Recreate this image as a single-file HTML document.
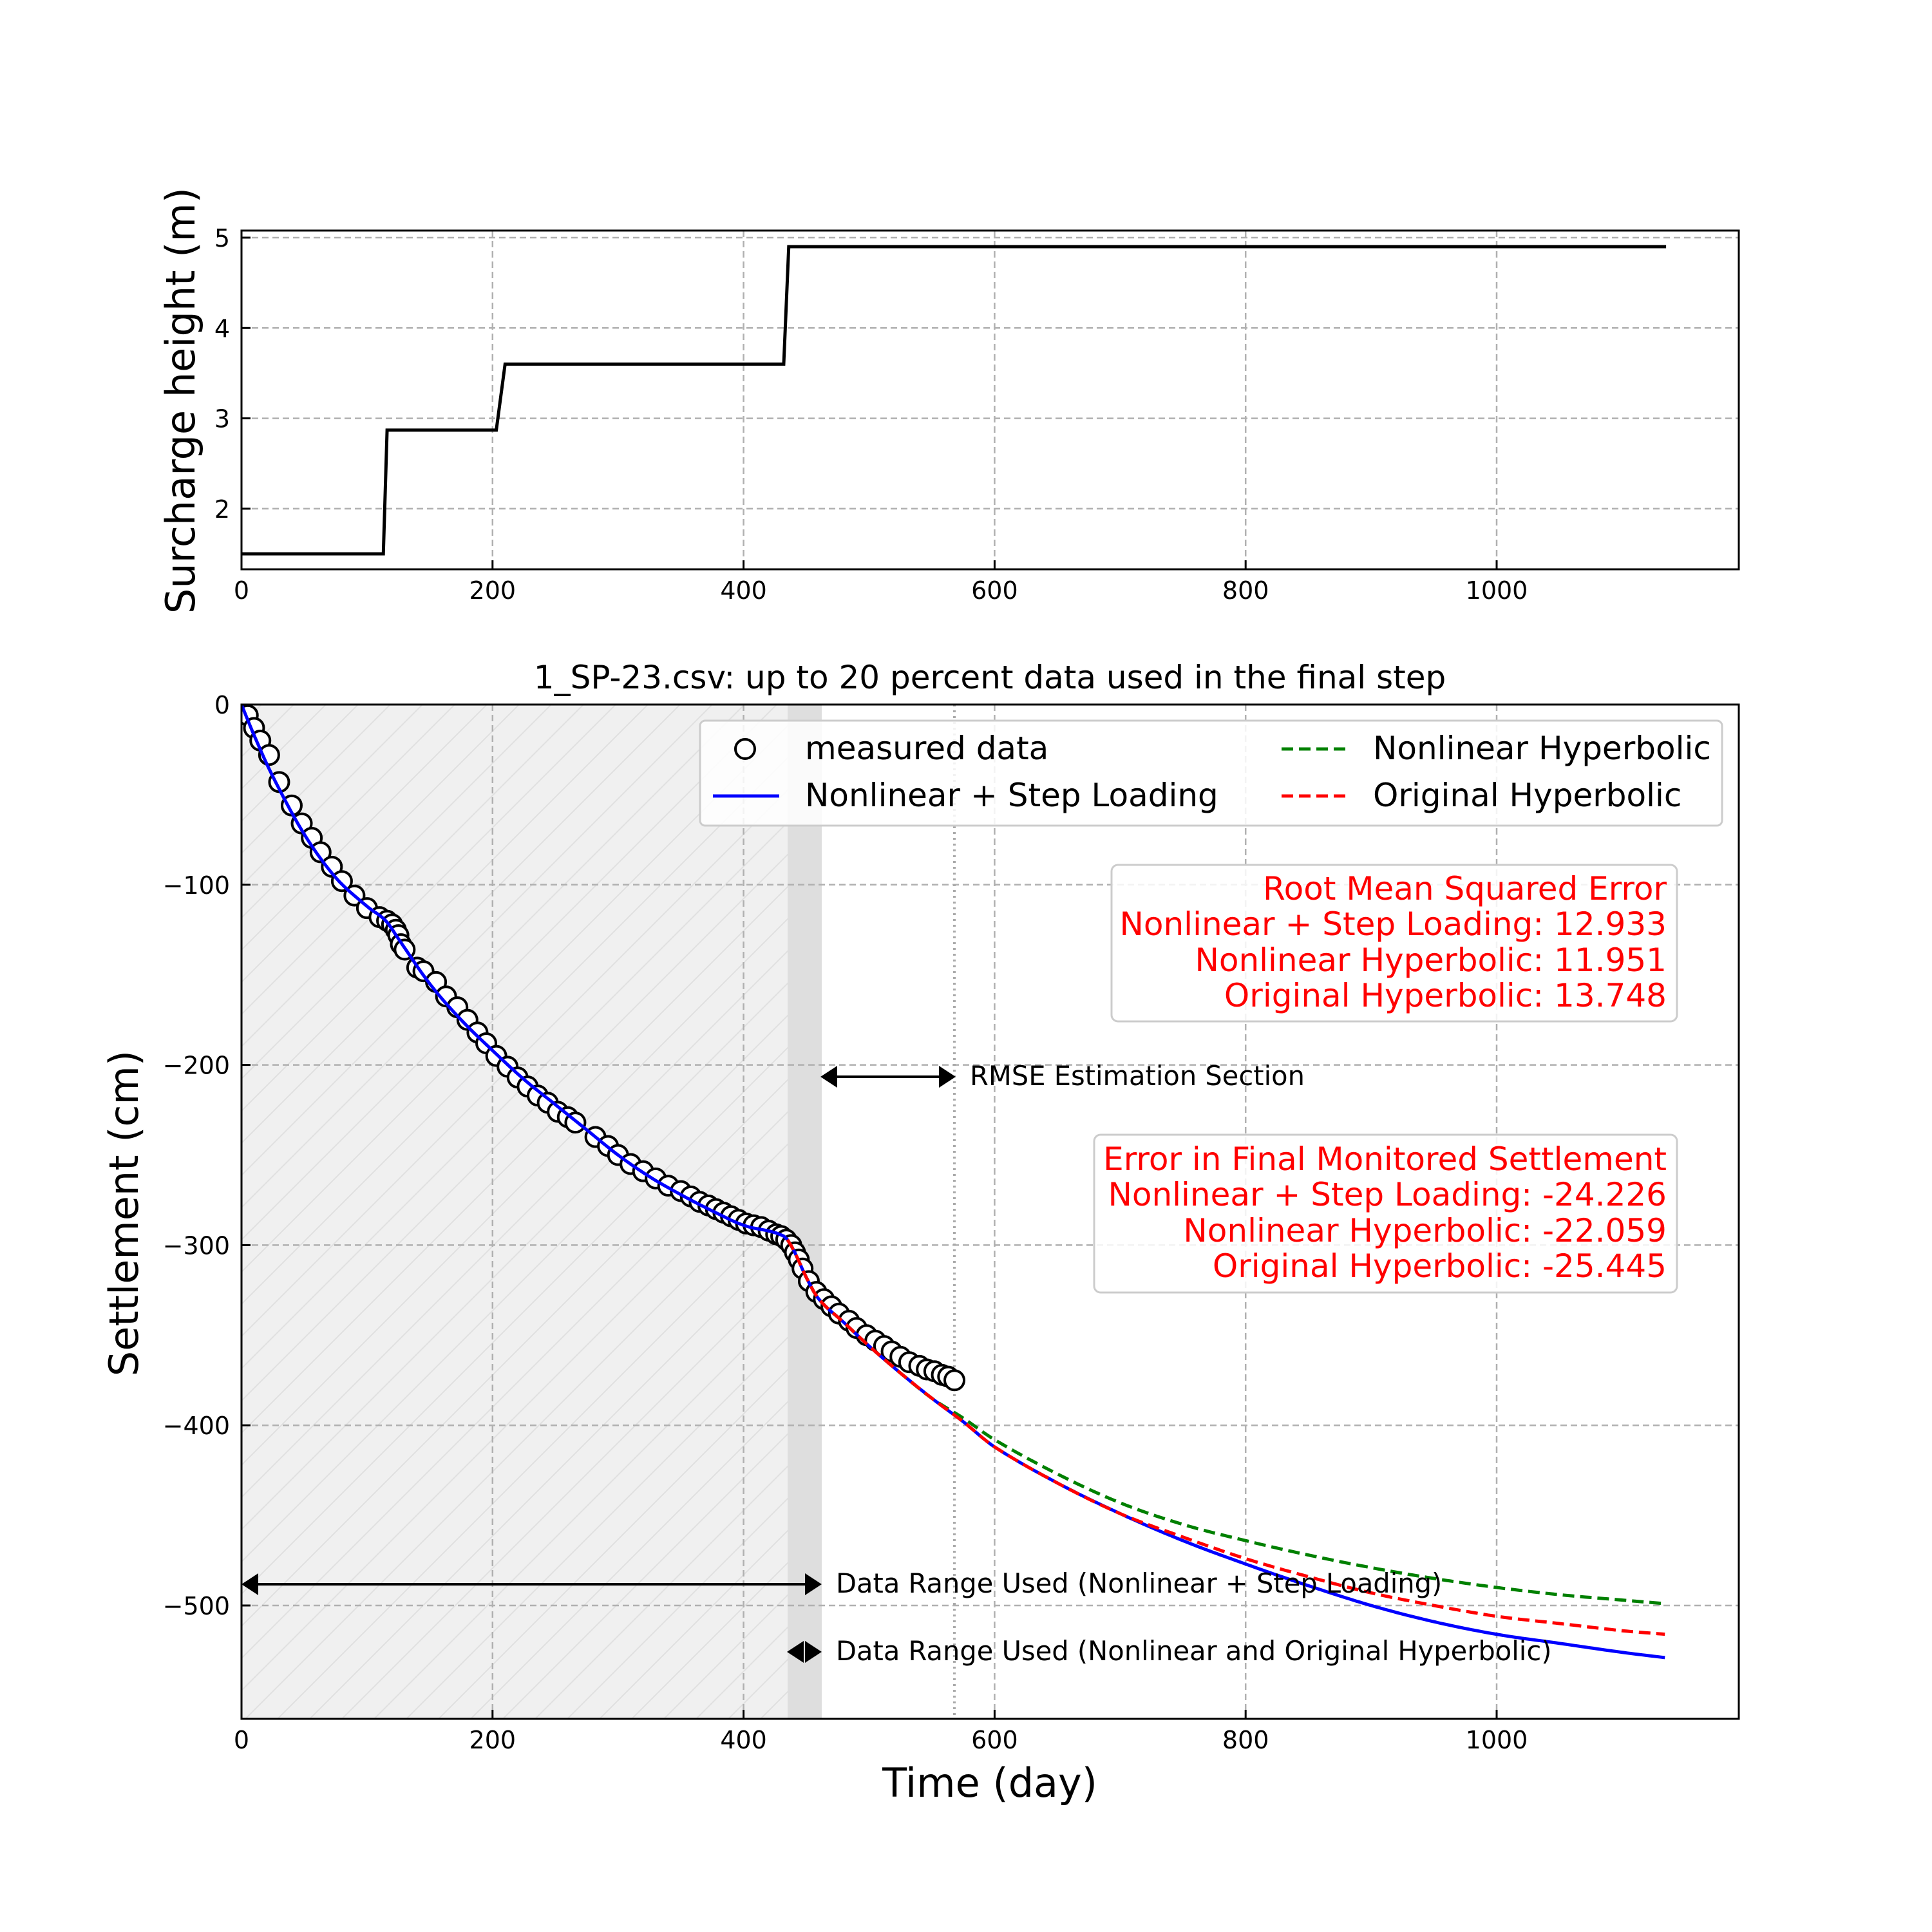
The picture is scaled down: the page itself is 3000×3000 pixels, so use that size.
<!DOCTYPE html>
<html><head><meta charset="utf-8"><style>
html,body{margin:0;padding:0;background:#fff}
svg{display:block;font-family:"DejaVu Sans","Liberation Sans",sans-serif}
</style></head><body>
<svg id="s" width="3000" height="3000" viewBox="0 0 3000 3000" xmlns="http://www.w3.org/2000/svg">
<defs>
<pattern id="h" patternUnits="userSpaceOnUse" width="50" height="50">
<path d="M-10,60 L60,-10 M-10,10 L10,-10 M40,60 L60,40" stroke="#e0e0e0" stroke-width="2"/>
</pattern>
<clipPath id="cb"><rect x="375" y="1094" width="2325" height="1575"/></clipPath>
</defs>
<rect width="3000" height="3000" fill="#fff"/>
<g id="topgrid" stroke="#b0b0b0" stroke-width="2.5" stroke-dasharray="10,6"></g>
<path id="surch" fill="none" stroke="#000" stroke-width="5"/>
<rect x="375" y="358" width="2325" height="526" fill="none" stroke="#000" stroke-width="3"/>
<g id="topticks"></g>
<text transform="translate(302,622) rotate(-90)" text-anchor="middle" font-size="62">Surcharge height (m)</text>

<rect x="375" y="1094" width="901" height="1575" fill="#f0f0f0"/>
<rect x="375" y="1094" width="901" height="1575" fill="url(#h)"/>
<rect x="1223" y="1094" width="53" height="1575" fill="#dedede"/>
<g id="botgrid" stroke="#b0b0b0" stroke-width="2.5" stroke-dasharray="10,6"></g>
<line x1="1482" y1="1094" x2="1482" y2="2669" stroke="#aaa" stroke-width="4" stroke-dasharray="3,6"/>
<g clip-path="url(#cb)">
<g id="pts" fill="#fff" stroke="#000" stroke-width="4"></g>
<path id="blue" fill="none" stroke="#0000ff" stroke-width="5"/>
<path id="green" fill="none" stroke="#008000" stroke-width="5" stroke-dasharray="18,9"/>
<path id="red" fill="none" stroke="#ff0000" stroke-width="5" stroke-dasharray="18,9"/>
</g>
<rect x="375" y="1094" width="2325" height="1575" fill="none" stroke="#000" stroke-width="3"/>
<g id="botticks"></g>
<text x="1537" y="1069" text-anchor="middle" font-size="50">1_SP-23.csv: up to 20 percent data used in the final step</text>
<text transform="translate(214,1884) rotate(-90)" text-anchor="middle" font-size="62">Settlement (cm)</text>
<text x="1537" y="2790" text-anchor="middle" font-size="62">Time (day)</text>

<rect x="1087" y="1119" width="1587" height="163" rx="8" fill="#fff" fill-opacity="0.85" stroke="#ccc" stroke-width="3"/>
<circle cx="1157" cy="1163" r="15" fill="#fff" stroke="#000" stroke-width="4"/>
<text x="1250" y="1179" font-size="50">measured data</text>
<line x1="1107" y1="1236" x2="1210" y2="1236" stroke="#00f" stroke-width="5"/>
<text x="1250" y="1252" font-size="50">Nonlinear + Step Loading</text>
<line x1="1990" y1="1163" x2="2093" y2="1163" stroke="#008000" stroke-width="5" stroke-dasharray="18,9"/>
<text x="2132" y="1179" font-size="50">Nonlinear Hyperbolic</text>
<line x1="1990" y1="1236" x2="2093" y2="1236" stroke="#f00" stroke-width="5" stroke-dasharray="18,9"/>
<text x="2132" y="1252" font-size="50">Original Hyperbolic</text>

<rect x="1726" y="1343" width="878" height="243" rx="10" fill="#fff" fill-opacity="0.85" stroke="#ccc" stroke-width="3"/>
<g fill="#f00" font-size="50" text-anchor="end">
<text x="2588" y="1397">Root Mean Squared Error</text>
<text x="2588" y="1452">Nonlinear + Step Loading: 12.933</text>
<text x="2588" y="1508">Nonlinear Hyperbolic: 11.951</text>
<text x="2588" y="1563">Original Hyperbolic: 13.748</text>
</g>
<rect x="1699" y="1762" width="905" height="245" rx="10" fill="#fff" fill-opacity="0.85" stroke="#ccc" stroke-width="3"/>
<g fill="#f00" font-size="50" text-anchor="end">
<text x="2588" y="1817">Error in Final Monitored Settlement</text>
<text x="2588" y="1872">Nonlinear + Step Loading: -24.226</text>
<text x="2588" y="1928">Nonlinear Hyperbolic: -22.059</text>
<text x="2588" y="1983">Original Hyperbolic: -25.445</text>
</g>

<g stroke="#000" stroke-width="4" fill="#000">
<line x1="1290" y1="1672" x2="1466" y2="1672"/>
<path d="M1274,1672 l26,-17 v34z M1484,1672 l-26,-17 v34z" stroke="none"/>
<line x1="392" y1="2460" x2="1258" y2="2460"/>
<path d="M375,2460 l26,-17 v34z M1276,2460 l-26,-17 v34z" stroke="none"/>
<path d="M1222,2565 l26,-17 v34z M1276,2565 l-26,-17 v34z" stroke="none"/>
</g>
<g font-size="41.6">
<text x="1506" y="1685">RMSE Estimation Section</text>
<text x="1298" y="2473">Data Range Used (Nonlinear + Step Loading)</text>
<text x="1298" y="2578">Data Range Used (Nonlinear and Original Hyperbolic)</text>
</g>
</svg>
<script>
var NS="http://www.w3.org/2000/svg";
function el(p,tag,a,txt){var e=document.createElementNS(NS,tag);for(var k in a)e.setAttribute(k,a[k]);if(txt!==undefined)e.textContent=txt;document.getElementById(p).appendChild(e);return e;}
function X(t){return 375+t*1.949;}
function YT(h){return 369+(5-h)*140.3;}
function YB(s){return 1094-s*2.798;}
for(var t=0;t<=1000;t+=200){ if(t>0)el("topgrid","line",{x1:X(t),y1:358,x2:X(t),y2:884});
 el("topticks","line",{x1:X(t),y1:884,x2:X(t),y2:870,stroke:"#000","stroke-width":3});
 el("topticks","text",{x:X(t),y:930,"text-anchor":"middle","font-size":38},String(t));}
for(var h=2;h<=5;h++){el("topgrid","line",{x1:375,y1:YT(h),x2:2700,y2:YT(h)});
 el("topticks","line",{x1:375,y1:YT(h),x2:389,y2:YT(h),stroke:"#000","stroke-width":3});
 el("topticks","text",{x:357,y:YT(h)+14,"text-anchor":"end","font-size":38},String(h));}
var sp=[[0,1.5],[113,1.5],[116,2.87],[203,2.87],[210,3.6],[432,3.6],[436,4.9],[1135,4.9]];
document.getElementById("surch").setAttribute("d","M"+sp.map(function(p){return X(p[0])+","+YT(p[1]);}).join(" L"));
for(var t=0;t<=1000;t+=200){ if(t>0)el("botgrid","line",{x1:X(t),y1:1094,x2:X(t),y2:2669});
 el("botticks","line",{x1:X(t),y1:2669,x2:X(t),y2:2655,stroke:"#000","stroke-width":3});
 el("botticks","text",{x:X(t),y:2715,"text-anchor":"middle","font-size":38},String(t));}
for(var s=0;s>=-500;s-=100){ if(s<0)el("botgrid","line",{x1:375,y1:YB(s),x2:2700,y2:YB(s)});
 el("botticks","line",{x1:375,y1:YB(s),x2:389,y2:YB(s),stroke:"#000","stroke-width":3});
 el("botticks","text",{x:357,y:YB(s)+14,"text-anchor":"end","font-size":38},s<0?"\u2212"+(-s):"0");}
function cr(arr,t){var n=arr.length;for(var i=1;i<n;i++){if(t<=arr[i][0]){var p1=arr[i-1],p2=arr[i],p0=arr[Math.max(0,i-2)],p3=arr[Math.min(n-1,i+1)];var h=p2[0]-p1[0];var f=(t-p1[0])/h;
 var m1=(p2[1]-p0[1])/(p2[0]-p0[0])*h, m2=(p3[1]-p1[1])/(p3[0]-p1[0]||1)*h;
 var f2=f*f,f3=f2*f;return (2*f3-3*f2+1)*p1[1]+(f3-2*f2+f)*m1+(-2*f3+3*f2)*p2[1]+(f3-f2)*m2;}}return arr[n-1][1];}
var common=[[0,0],[10,-17],[25,-40],[50,-72],[75,-96],[100,-112],[115,-120],[125,-130],[150,-155],[175,-175],[200,-192],[225,-208],[250,-222],[275,-236],[300,-250],[325,-262],[350,-272],[375,-281],[400,-289],[432,-295],[440,-303],[450,-318],[460,-330],[480,-343],[500,-356],[525,-371],[550,-385],[575,-398]];
var blue=common.concat([[600,-412],[650,-432],[700,-449],[750,-464],[800,-477],[850,-489],[900,-500],[950,-509],[1000,-516],[1050,-521],[1100,-526],[1135,-529]]);
var green=common.slice(0,-1).concat([[575,-396],[600,-408],[650,-427],[700,-443],[750,-455],[800,-464],[850,-472],[900,-479],[950,-485],[1000,-490],[1050,-494],[1100,-497],[1135,-499]]);
var red=common.concat([[600,-412],[650,-432],[700,-449],[750,-462],[800,-474],[850,-484],[900,-493],[950,-500],[1000,-506],[1050,-510],[1100,-514],[1135,-516]]);
function path(arr,t0){var d="";for(var t=t0;t<=1135;t+=3){d+=(d?" L":"M")+X(t).toFixed(1)+","+YB(cr(arr,t)).toFixed(1);}return d;}
document.getElementById("blue").setAttribute("d",path(blue,0));
document.getElementById("green").setAttribute("d",path(green,435));
document.getElementById("red").setAttribute("d",path(red,435));
var meas=[[0,0],[5,-6],[10,-13],[15,-20],[22,-28],[30,-43],[40,-56],[48,-66],[56,-74],[63,-82],[72,-90],[80,-98],[90,-106],[100,-113],[110,-118],[116,-120],[120,-122],[123,-125],[125,-128],[127,-133],[130,-136],[140,-146],[145,-148],[155,-154],[163,-162],[172,-168],[180,-175],[188,-182],[195,-188],[203,-195],[212,-201],[220,-207],[228,-212],[236,-217],[244,-221],[252,-226],[260,-229],[266,-232],[282,-240],[292,-245],[300,-250],[310,-255],[320,-259],[330,-263],[340,-267],[350,-270],[358,-273],[365,-276],[372,-278],[378,-280],[384,-282],[390,-284],[396,-286],[402,-288],[408,-289],[414,-290],[420,-292],[426,-294],[430,-295],[434,-297],[438,-300],[441,-304],[444,-308],[447,-313],[452,-320],[458,-326],[464,-330],[470,-334],[476,-338],[484,-342],[490,-346],[498,-350],[505,-353],[512,-356],[518,-359],[525,-362],[532,-365],[540,-367],[546,-369],[552,-370],[558,-372],[563,-373],[568,-375]];
meas.forEach(function(p){el("pts","circle",{cx:X(p[0]),cy:YB(p[1]),r:15});});
</script>
</body></html>
